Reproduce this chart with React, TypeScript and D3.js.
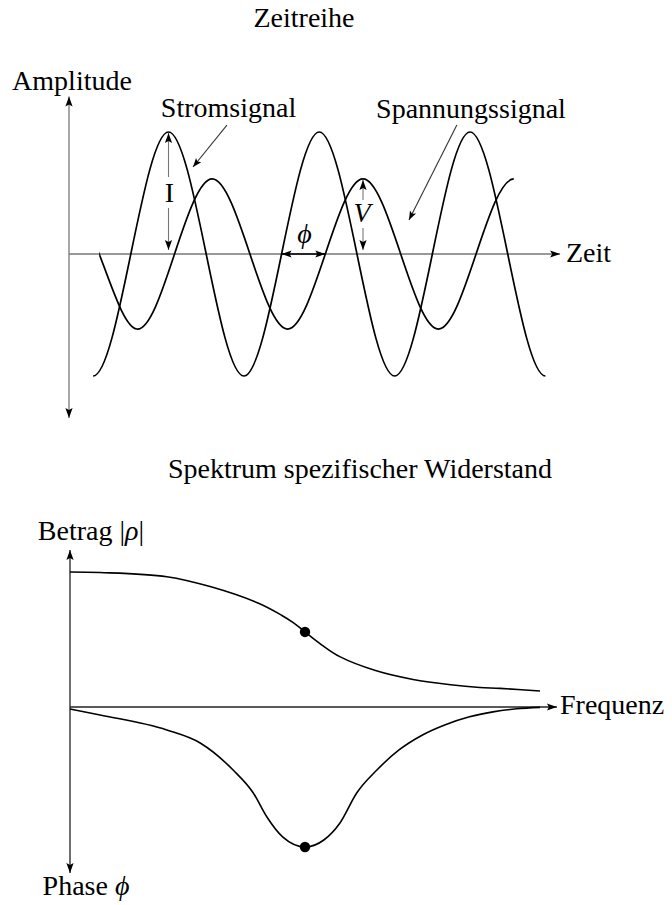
import React from "react";
import * as d3 from "d3";

const W = 672;
const H = 905;

// Zeitreihe: Stützstellen der beiden Signale (Viertelperioden, je eine über den Rand hinaus)
const stromZeit = [-0.36, 0.64, 1.64, 2.64, 3.64, 4.64, 5.64, 6.64, 7.64, 8.64, 9.64, 10.64, 11.64, 12.64, 13.64];
const stromWert = [0, -1, 0, 1, 0, -1, 0, 1, 0, -1, 0, 1, 0, -1, 0];
const stromBereich = [0.64, 12.64];
const spannungZeit = [-0.2, 0.8, 1.8, 2.8, 3.8, 4.8, 5.8, 6.8, 7.8, 8.8, 9.8, 10.8, 11.8, 12.8];
const spannungWert = [0.615, 0, -0.615, 0, 0.615, 0, -0.615, 0, 0.615, 0, -0.615, 0, 0.615, 0];
const spannungBereich = [0.8, 11.8];

// Markierungen: Amplituden I und V, Phasenverschiebung
const markeStrom = 2.64;
const markeSpannung = 7.8;
const phaseVon = 5.64;
const phaseBis = 6.8;

// Spektrum: Betrag und Phase über der Frequenz
const frequenzBetrag = [0, 0.64, 2.06, 3, 4, 4.5, 4.75, 5, 5.36, 5.74, 6.5, 7.3, 8.1, 8.72, 9.15, 10];
const betrag = [1.0, 0.996, 0.965, 0.89, 0.77, 0.68, 0.625, 0.556, 0.459, 0.373, 0.27, 0.204, 0.165, 0.145, 0.138, 0.118];
const frequenzPhase = [0, 0.64, 2.06, 2.77, 3.47, 3.9, 4.19, 4.53, 5, 5.4, 5.74, 6.1, 6.53, 7.0, 7.5, 8, 8.5, 9, 9.5, 10];
const phase = [-0.014, -0.057, -0.164, -0.257, -0.45, -0.614, -0.786, -0.93, -1, -0.95, -0.83, -0.614, -0.45, -0.307, -0.2, -0.125, -0.07, -0.035, -0.013, -0.003];
const eckFrequenz = 5;

const FONT = '"Liberation Serif", "Times New Roman", serif';

type P = [number, number];

function head(from: P, to: P, len = 10, half = 3.6): string {
  const dx = to[0] - from[0];
  const dy = to[1] - from[1];
  const d = Math.hypot(dx, dy) || 1;
  const ux = dx / d;
  const uy = dy / d;
  const bx = to[0] - ux * len;
  const by = to[1] - uy * len;
  const px = -uy * half;
  const py = ux * half;
  return `${to[0]},${to[1]} ${bx + px},${by + py} ${bx + ux * 2},${by + uy * 2} ${bx - px},${by - py}`;
}

function Arrow({ from, to, stroke, width, heads = "end", headFill = "#000", len = 10, half = 3.6 }: {
  from: P; to: P; stroke: string; width: number; heads?: "end" | "both" | "none"; headFill?: string; len?: number; half?: number;
}) {
  return (
    <g>
      <line x1={from[0]} y1={from[1]} x2={to[0]} y2={to[1]} stroke={stroke} strokeWidth={width} />
      {heads !== "none" && <polygon points={head(from, to, len, half)} fill={headFill} />}
      {heads === "both" && <polygon points={head(to, from, len, half)} fill={headFill} />}
    </g>
  );
}

export default function App() {
  // Oberes Diagramm
  const x = d3.scaleLinear().domain([0, 13]).range([69, 559]);
  const y = d3.scaleLinear().domain([-1, 1]).range([376, 132]);

  const welle = d3
    .line<P>()
    .x((d) => x(d[0]))
    .y((d) => y(d[1]))
    .curve(d3.curveNatural);

  const strom: P[] = stromZeit.map((t, i) => [t, stromWert[i]]);
  const spannung: P[] = spannungZeit.map((t, i) => [t, spannungWert[i]]);

  // Unteres Diagramm
  const fx = d3.scaleLinear().domain([0, 10]).range([70, 540]);
  const by = d3.scaleLinear().domain([0, 1]).range([707, 572]);
  const py = d3.scaleLinear().domain([0, -1]).range([707, 847]);

  const betragLinie = d3
    .line<P>()
    .x((d) => fx(d[0]))
    .y((d) => by(d[1]))
    .curve(d3.curveCatmullRom.alpha(0.5));
  const phaseLinie = d3
    .line<P>()
    .x((d) => fx(d[0]))
    .y((d) => py(d[1]))
    .curve(d3.curveMonotoneX);

  const betragDaten: P[] = frequenzBetrag.map((f, i) => [f, betrag[i]]);
  const phaseDaten: P[] = frequenzPhase.map((f, i) => [f, phase[i]]);
  const betragEck = betrag[frequenzBetrag.indexOf(eckFrequenz)];
  const phaseEck = phase[frequenzPhase.indexOf(eckFrequenz)];

  const achseOben = "#777";
  const achseUnten = "#222";
  const y0 = y(0);

  const iX = x(markeStrom);
  const vX = x(markeSpannung);
  const vTop = y(spannungWert[spannungZeit.indexOf(markeSpannung)]);

  return (
    <svg
      width={W}
      height={H}
      viewBox={`0 0 ${W} ${H}`}
      style={{ position: "absolute", left: 0, top: 0, background: "#fff" }}
      fontFamily={FONT}
      fontSize={28}
    >
      <defs>
        <clipPath id="clip-strom">
          <rect x={x(stromBereich[0])} y={0} width={x(stromBereich[1]) - x(stromBereich[0])} height={450} />
        </clipPath>
        <clipPath id="clip-spannung">
          <rect x={x(spannungBereich[0])} y={0} width={x(spannungBereich[1]) - x(spannungBereich[0])} height={450} />
        </clipPath>
      </defs>
      <rect width={W} height={H} fill="#fff" />

      {/* Zeitreihe */}
      <text x={304} y={27} textAnchor="middle">Zeitreihe</text>

      <Arrow from={[x(0), y(-1.344)]} to={[x(0), y(1.29)]} stroke={achseOben} width={1.3} heads="both" />
      <Arrow from={[x(0), y0]} to={[x(13.03), y0]} stroke={achseOben} width={1.3} />
      <text x={72} y={90} textAnchor="middle">Amplitude</text>
      <text x={566} y={262}>Zeit</text>

      <path d={welle(strom) ?? ""} fill="none" stroke="#000" strokeWidth={1.7} clipPath="url(#clip-strom)" />
      <path d={welle(spannung) ?? ""} fill="none" stroke="#000" strokeWidth={1.7} clipPath="url(#clip-spannung)" />

      {/* Amplitude I */}
      <Arrow from={[iX, 177]} to={[iX, y(1) + 1]} stroke={achseOben} width={1.1} />
      <Arrow from={[iX, 208]} to={[iX, y0 - 4]} stroke={achseOben} width={1.1} />
      <text x={iX + 1} y={202} textAnchor="middle">I</text>

      {/* Amplitude V */}
      <Arrow from={[vX, 200]} to={[vX, vTop + 1]} stroke={achseOben} width={1.1} />
      <Arrow from={[vX, 228]} to={[vX, y0 - 4]} stroke={achseOben} width={1.1} />
      <text x={vX - 1} y={222} textAnchor="middle" fontStyle="italic">V</text>

      {/* Phasenverschiebung */}
      <Arrow from={[x(phaseVon), y0]} to={[x(phaseBis), y0]} stroke="#000" width={1.6} heads="both" />
      <text x={(x(phaseVon) + x(phaseBis)) / 2 + 1} y={243} textAnchor="middle" fontStyle="italic">ϕ</text>

      {/* Beschriftung der Signale */}
      <text x={228.5} y={117} textAnchor="middle">Stromsignal</text>
      <Arrow from={[x(4.19), y(1.057)]} to={[x(3.29), y(0.713)]} stroke="#333" width={1.1} len={9} half={3.4} />
      <text x={471} y={118} textAnchor="middle">Spannungssignal</text>
      <Arrow from={[x(10.29), y(1.057)]} to={[x(9.02), y(0.279)]} stroke="#333" width={1.1} len={9} half={3.4} />

      {/* Spektrum */}
      <text x={360} y={478} textAnchor="middle">Spektrum spezifischer Widerstand</text>

      <Arrow from={[fx(0), py(-1.186)]} to={[fx(0), by(1.163)]} stroke={achseUnten} width={1.3} heads="both" />
      <Arrow from={[fx(0), by(0)]} to={[fx(10.36), by(0)]} stroke={achseUnten} width={1.3} />

      <text x={91} y={540} textAnchor="middle">
        Betrag |<tspan fontStyle="italic">ρ</tspan>|
      </text>
      <text x={560} y={714}>Frequenz</text>
      <text x={86} y={895} textAnchor="middle">
        Phase <tspan fontStyle="italic">ϕ</tspan>
      </text>

      <path d={betragLinie(betragDaten) ?? ""} fill="none" stroke="#000" strokeWidth={1.6} />
      <path d={phaseLinie(phaseDaten) ?? ""} fill="none" stroke="#000" strokeWidth={1.6} />
      <circle cx={fx(eckFrequenz)} cy={by(betragEck)} r={5.2} fill="#000" />
      <circle cx={fx(eckFrequenz)} cy={py(phaseEck)} r={5.2} fill="#000" />
    </svg>
  );
}
